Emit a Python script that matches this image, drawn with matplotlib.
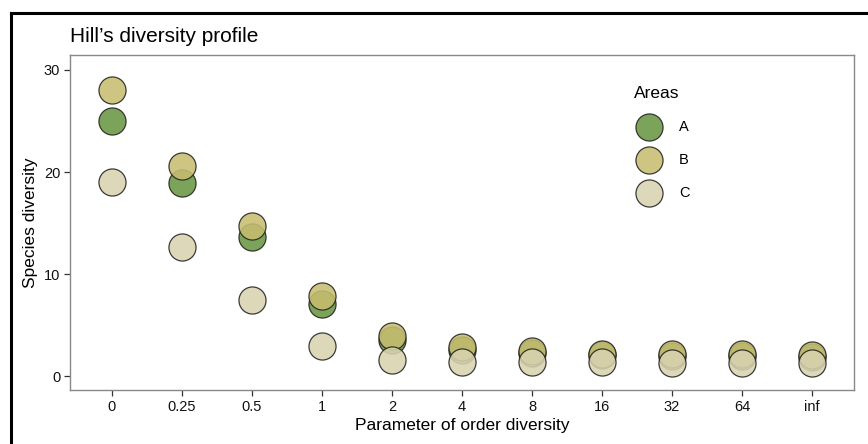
import matplotlib
matplotlib.use("Agg")
import matplotlib.pyplot as plt
from matplotlib.lines import Line2D
import numpy as np

plt.rcParams['font.family'] = ['Liberation Sans', 'DejaVu Sans']

orders = ["0", "0.25", "0.5", "1", "2", "4", "8", "16", "32", "64", "inf"]
area_a = [25.0, 18.9, 13.6, 7.1, 3.5, 2.6, 2.25, 2.05, 2.0, 2.0, 1.9]
area_b = [28.0, 20.6, 14.7, 7.8, 3.9, 2.8, 2.45, 2.2, 2.2, 2.2, 2.05]
area_c = [19.0, 12.6, 7.5, 2.9, 1.6, 1.4, 1.35, 1.35, 1.3, 1.3, 1.3]
areas = ["A", "B", "C"]
colors = ["#6a9743", "#c6bd70", "#d8d3b0"]

W, H = 868, 444
fig = plt.figure(figsize=(W / 100, H / 100), dpi=100)
ax = fig.add_axes([70 / W, 1 - 390 / H, (854 - 70) / W, (390 - 55) / H])

x = np.arange(len(orders))
for name, vals, col in zip(areas, [area_a, area_b, area_c], colors):
    ax.scatter(x, vals, s=380, color=col, alpha=0.88, edgecolors="#222222",
               linewidths=0.9, label=name, zorder=3)

ax.set_xlim(-0.6, len(orders) - 0.4)
ax.set_ylim(-1.37, 31.47)
ax.set_xticks(x)
ax.set_xticklabels(orders)
ax.set_yticks([0, 10, 20, 30])
ax.tick_params(axis="both", direction="out", length=4, width=0.9,
               color="#333333", labelsize=10.5, labelcolor="#111111", pad=3)
for s in ax.spines.values():
    s.set_color("#888888")
    s.set_linewidth(1.0)

ax.set_xlabel("Parameter of order diversity", fontsize=12.5, labelpad=3)
ax.set_ylabel("Species diversity", fontsize=12.5, labelpad=4)
fig.text(70 / W, 1 - 36 / H, "Hill\u2019s diversity profile", fontsize=15,
         va="center", ha="left")

leg = ax.legend(title="Areas", loc="upper left", bbox_to_anchor=(0.71, 0.93),
                frameon=False, fontsize=10.5, title_fontsize=12.5,
                labelspacing=1.31, handletextpad=1.1, borderpad=0)
leg._legend_box.align = "left"

# black frame of the screenshot (left and top)
fig.add_artist(Line2D([11 / W, 11 / W], [0, 1 - 13 / H], color="black", lw=2.2,
                      transform=fig.transFigure))
fig.add_artist(Line2D([11 / W, 1], [1 - 13 / H, 1 - 13 / H], color="black", lw=2.2,
                      transform=fig.transFigure))

fig.savefig("out.png", dpi=100)
